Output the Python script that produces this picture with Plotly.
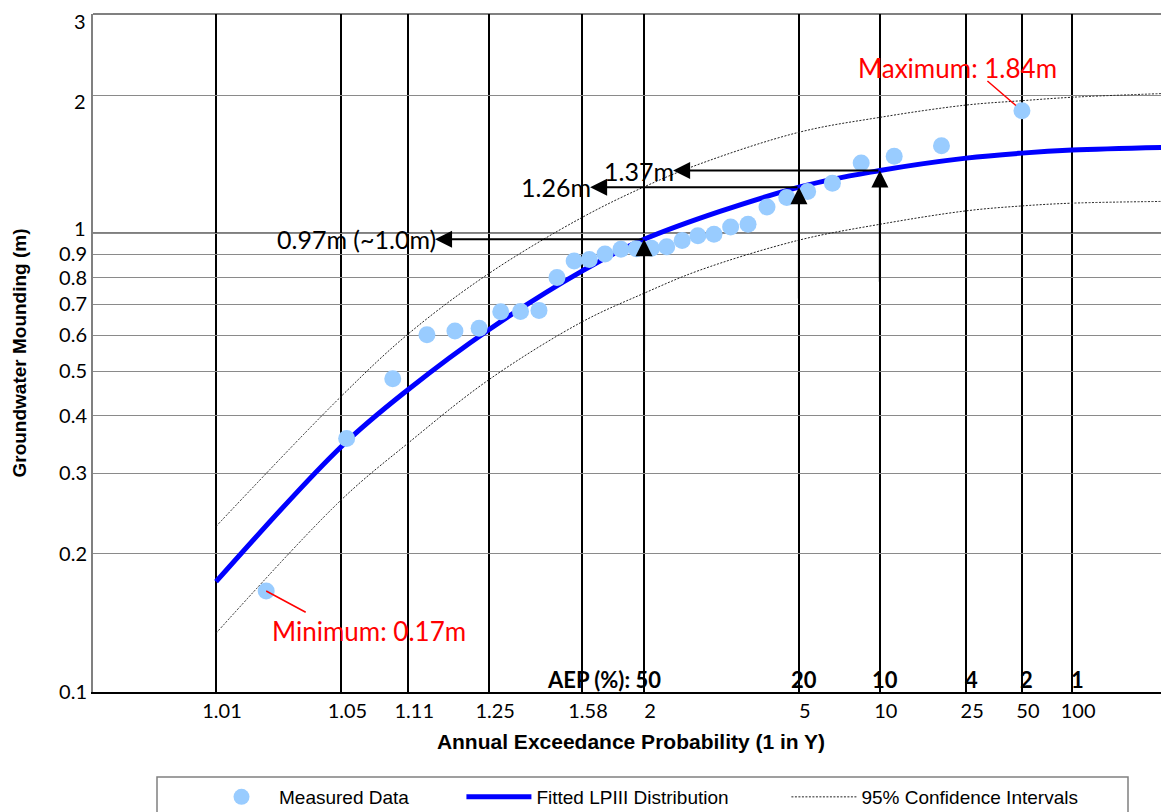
import math
from statistics import NormalDist
import plotly.graph_objects as go

# ---------------- data ----------------
# vertical grid lines: AEP (fraction) and their "1 in Y" labels
grid_aep = [0.99, 0.95, 0.90, 0.80, 0.632, 0.50, 0.20, 0.10, 0.04, 0.02, 0.01]
ari_labels = ["1.01", "1.05", "1.11", "1.25", "1.58", "2", "5", "10", "25", "50", "100"]

# AEP (%) labels shown inside the plot
aep_pct_at = [0.50, 0.20, 0.10, 0.04, 0.02, 0.01]
aep_pct_labels = ["50", "20", "10", "4", "2", "1"]

# y ticks; labels 1, 2 and 3 are drawn separately, nudged like the reference
y_ticks = [0.1, 0.2, 0.3, 0.4, 0.5, 0.6, 0.7, 0.8, 0.9, 1, 2, 3]
y_tick_text = ["0.1", "0.2", "0.3", "0.4", "0.5", "0.6", "0.7", "0.8", "0.9", "", "", ""]
y_nudged_vals = [1, 2, 3]
y_nudged_text = ["1", "2", "3"]

# measured data (plotting-position AEP, mounding in m)
measured_aep = [0.980, 0.947, 0.914, 0.881, 0.848, 0.815, 0.782, 0.749, 0.716, 0.682,
                0.648, 0.617, 0.584, 0.550, 0.517, 0.484, 0.451, 0.418, 0.385, 0.352,
                0.319, 0.286, 0.252, 0.219, 0.187, 0.153, 0.119, 0.087, 0.053, 0.020]
measured_mound = [0.166, 0.357, 0.482, 0.601, 0.612, 0.621, 0.674, 0.675, 0.679, 0.801,
                  0.870, 0.877, 0.901, 0.923, 0.925, 0.927, 0.934, 0.964, 0.987, 0.995,
                  1.032, 1.046, 1.141, 1.197, 1.233, 1.286, 1.423, 1.471, 1.551, 1.850]

# fitted LPIII distribution
fit_aep = [0.99, 0.95, 0.90, 0.80, 0.633, 0.50, 0.20, 0.10, 0.04, 0.02, 0.01, 0.002]
fit_mound = [0.174, 0.343, 0.4565, 0.617, 0.826, 0.970, 1.26, 1.37, 1.458, 1.495, 1.518, 1.540]

# 95% confidence intervals
ci_aep = [0.99, 0.95, 0.90, 0.80, 0.633, 0.50, 0.382, 0.20, 0.10, 0.04, 0.02, 0.01, 0.002]
ci_upper = [0.2296, 0.4416, 0.6034, 0.818, 1.081, 1.262, 1.415, 1.66, 1.789, 1.903, 1.945, 1.979, 2.02]
ci_lower = [0.1343, 0.2625, 0.349, 0.480, 0.640, 0.740, 0.830, 0.966, 1.046, 1.119, 1.147, 1.163, 1.174]

# design values
design_aep = [0.50, 0.20, 0.10]
design_mound = [0.97, 1.26, 1.37]
design_labels = ["0.97m (~1.0m)", "1.26m", "1.37m"]

min_label = "Minimum: 0.17m"
max_label = "Maximum: 1.84m"

# ---------------- helpers ----------------
nd = NormalDist()


def z_of(aep):
    """normal-probability plotting position of an AEP"""
    return nd.inv_cdf(1.0 - aep)


def zs(lst):
    return [z_of(a) for a in lst]


TICK_FONT = dict(family="Lato", size=20, color="black")
NBSP = "\u00a0"

fig = go.Figure()

fig.add_trace(go.Scatter(
    x=zs(ci_aep), y=ci_upper, mode="lines",
    line=dict(color="#222222", width=1, dash="2px,1.5px", shape="spline"),
    name="95% Confidence Intervals", legendrank=3))
fig.add_trace(go.Scatter(
    x=zs(ci_aep), y=ci_lower, mode="lines",
    line=dict(color="#222222", width=1, dash="2px,1.5px", shape="spline"),
    name="95% Confidence Intervals", showlegend=False))
fig.add_trace(go.Scatter(
    x=zs(fit_aep), y=fit_mound, mode="lines",
    line=dict(color="#0000FF", width=5, shape="spline"),
    name="Fitted LPIII Distribution" + NBSP * 10, legendrank=2))
fig.add_trace(go.Scatter(
    x=zs(measured_aep), y=measured_mound, mode="markers",
    marker=dict(color="#99CCFF", size=17, line=dict(width=0)),
    name="Measured Data" + NBSP * 9, legendrank=1))

annotations = []

# vertical + horizontal design arrows
arrow_bottom = [0.55, 0.715, 0.778]
arrow_tip_x = [-1.136, -0.293, 0.158]
for a, v, lab, yb, xt in zip(design_aep, design_mound, design_labels, arrow_bottom, arrow_tip_x):
    zx = z_of(a)
    annotations.append(dict(
        x=zx, y=math.log10(v), ax=zx, ay=math.log10(yb), axref="x", ayref="y",
        xref="x", yref="y", text="", showarrow=True, arrowhead=2, arrowsize=1.7,
        arrowwidth=2, arrowcolor="black", standoff=0, startstandoff=0))
    annotations.append(dict(
        x=xt, y=math.log10(v), ax=zx, ay=math.log10(v), axref="x", ayref="y",
        xref="x", yref="y", text="", showarrow=True, arrowhead=2, arrowsize=1.7,
        arrowwidth=2, arrowcolor="black", standoff=0, startstandoff=0))
    annotations.append(dict(
        x=xt, y=math.log10(v), xref="x", yref="y", text=lab, showarrow=False,
        xanchor="right", yanchor="middle", xshift=3,
        font=dict(family="Lato", size=25, color="black")))

# min / max labels
i_min = measured_mound.index(min(measured_mound))
i_max = measured_mound.index(max(measured_mound))
for i, lab, dx, dy, lx, ly, so in [
        (i_min, min_label, 41, 22, 103, -40, 0),
        (i_max, max_label, -36, -31, -64, 43, 8)]:
    px = z_of(measured_aep[i])
    py = math.log10(measured_mound[i])
    annotations.append(dict(
        x=px, y=py, xref="x", yref="y", text="", showarrow=True, arrowhead=0,
        ax=dx, ay=dy, arrowwidth=1.5, arrowcolor="#FF0000", standoff=so))
    annotations.append(dict(
        x=px, y=py, xref="x", yref="y", text=lab, showarrow=False,
        xshift=lx, yshift=ly, font=dict(family="Lato", size=26, color="#FF0000")))

# AEP (%) labels inside the plot
for k, (a, lab) in enumerate(zip(aep_pct_at, aep_pct_labels)):
    if k == 0:
        annotations.append(dict(
            x=z_of(a), y=0, xref="x", yref="paper", text="<b>AEP (%): " + lab + "</b>",
            showarrow=False, xanchor="right", yanchor="bottom", xshift=19, yshift=-3,
            font=dict(family="Lato", size=22, color="black")))
    else:
        annotations.append(dict(
            x=z_of(a), y=0, xref="x", yref="paper", text="<b>" + lab + "</b>",
            showarrow=False, xanchor="center", yanchor="bottom", xshift=5, yshift=-3,
            font=dict(family="Lato", size=22, color="black")))

# y labels 1, 2, 3 nudged as in the reference
for v, lab, dy in zip(y_nudged_vals, y_nudged_text, [5, -6, -7]):
    annotations.append(dict(
        x=0, y=math.log10(v), xref="paper", yref="y", text=lab,
        showarrow=False, xanchor="right", yanchor="middle", xshift=-5, yshift=dy,
        font=TICK_FONT))

shapes = [
    # black horizontal line at 1 m
    dict(type="line", xref="paper", yref="y", x0=0, x1=1, y0=1, y1=1,
         line=dict(color="black", width=1.5), layer="between"),
    # grey top frame of the plot area
    dict(type="line", xref="paper", yref="paper", x0=0, x1=1, y0=1, y1=1,
         line=dict(color="#808080", width=2), layer="between"),
    # legend frame
    dict(type="rect", xref="paper", yref="paper",
         x0=(157 - 93) / 1076, x1=(1128 - 93) / 1076,
         y0=(692 - 777) / 678, y1=(692 - 840) / 678,
         line=dict(color="#808080", width=1.5), fillcolor="rgba(0,0,0,0)", layer="above"),
]

fig.update_layout(
    template="none",
    width=1161, height=804,
    margin=dict(l=85, r=0, t=6, b=120, autoexpand=False),
    paper_bgcolor="white", plot_bgcolor="white",
    font=dict(family="Lato", color="black"),
    showlegend=True,
    legend=dict(orientation="h", x=(204 - 93) / 1076, xanchor="left",
                y=(692 - 797) / 678, yanchor="middle",
                font=dict(family="Liberation Sans", size=19, color="black"),
                itemwidth=65, bgcolor="rgba(0,0,0,0)", borderwidth=0,
                traceorder="normal"),
    annotations=annotations,
    shapes=shapes,
    xaxis=dict(
        range=[-2.995, 2.853], tickvals=zs(grid_aep), ticktext=ari_labels,
        showgrid=True, gridcolor="black", gridwidth=2, zeroline=False,
        showline=True, linecolor="black", linewidth=2, ticks="",
        tickfont=TICK_FONT, ticklabelshift=6, automargin=False,
        title=dict(text="<b>Annual Exceedance Probability (1 in Y)</b>",
                   font=dict(family="Liberation Sans", size=21, color="black"),
                   standoff=13)),
    yaxis=dict(
        type="log", range=[-1, math.log10(3) + 0.0008],
        tickvals=y_ticks, ticktext=y_tick_text, ticklabeloverflow="allow",
        showgrid=True, gridcolor="#8a8a8a", gridwidth=1, zeroline=False,
        showline=True, linecolor="#808080", linewidth=2, ticks="",
        tickfont=TICK_FONT, automargin=False,
        title=dict(text="<b>Groundwater Mounding (m)</b>",
                   font=dict(family="Liberation Sans", size=19, color="black"),
                   standoff=27)),
)

fig.write_html("out.html")
